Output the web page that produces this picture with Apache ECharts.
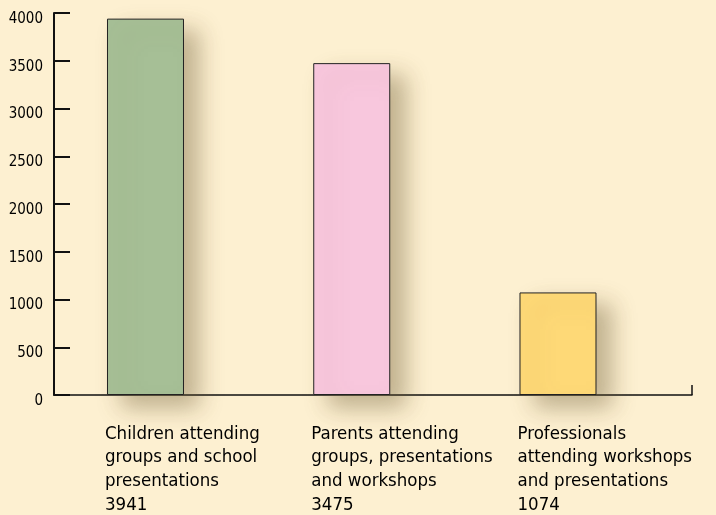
<!DOCTYPE html>
<html>
<head>
<meta charset="utf-8">
<style>
  html, body { margin: 0; padding: 0; background: #fdf0d1; }
  #chart { width: 716px; height: 515px; }
</style>
<script src="https://cdn.jsdelivr.net/npm/echarts@6/dist/echarts.min.js"></script>
</head>
<body>
<div id="chart"></div>
<script>
// categories and values
var categories = [
    "Children attending\ngroups and school\npresentations",
    "Parents attending\ngroups, presentations\nand workshops",
    "Professionals\nattending workshops\nand presentations"
];
var counts = [3941, 3475, 1074];
var barColors = ["#a6bf96", "#f8c7dd", "#fed977"];
var yTicks = [0, 500, 1000, 1500, 2000, 2500, 3000, 3500, 4000];

var FONT = '"DejaVu Sans Condensed", "Liberation Sans", sans-serif';
// x is a plain value axis so the bars can sit off-centre like in the print
var xMin = -0.4436, xMax = 2.6497;

var barData = [];
for (var i = 0; i < counts.length; i++) {
    barData.push({
        name: categories[i],
        value: [i, counts[i]],
        itemStyle: {color: barColors[i]}
    });
}

var myChart = echarts.init(document.getElementById("chart"));
myChart.setOption({
    backgroundColor: "#fdf0d1",
    animation: false,
    grid: {left: 54, right: 24, top: 13, bottom: 120, containLabel: false},
    xAxis: {
        type: "value",
        min: xMin,
        max: xMax,
        splitLine: {show: false},
        axisLine: {show: true, onZero: false, lineStyle: {color: "#111", width: 1.5}},
        axisTick: {show: true, inside: true, length: 10, customValues: [xMax], lineStyle: {color: "#111", width: 1.5}},
        axisLabel: {show: false}
    },
    yAxis: {
        type: "value",
        min: yTicks[0],
        max: yTicks[yTicks.length - 1],
        interval: 500,
        splitLine: {show: false},
        axisLine: {show: true, onZero: false, lineStyle: {color: "#111", width: 2}},
        axisTick: {show: true, inside: true, length: 16, lineStyle: {color: "#111", width: 2}},
        axisLabel: {
            color: "#000", fontFamily: FONT, fontSize: 15, margin: 11,
            verticalAlign: "top", lineHeight: 12,
            formatter: function (v) { return String(v); }
        }
    },
    series: [{
        type: "bar",
        barWidth: 77,
        data: barData,
        itemStyle: {
            borderColor: "#222",
            borderWidth: 1,
            shadowColor: "rgba(110, 90, 50, 0.42)",
            shadowBlur: 22,
            shadowOffsetX: 15,
            shadowOffsetY: 12
        },
        label: {
            show: true,
            position: [-2, "100%"],
            offset: [0, 27],
            align: "left",
            verticalAlign: "top",
            color: "#000",
            fontFamily: FONT,
            fontSize: 18.5,
            lineHeight: 23.7,
            formatter: function (p) {
                return p.name + "\n" + p.value[1];
            }
        }
    }]
});
</script>
</body>
</html>
